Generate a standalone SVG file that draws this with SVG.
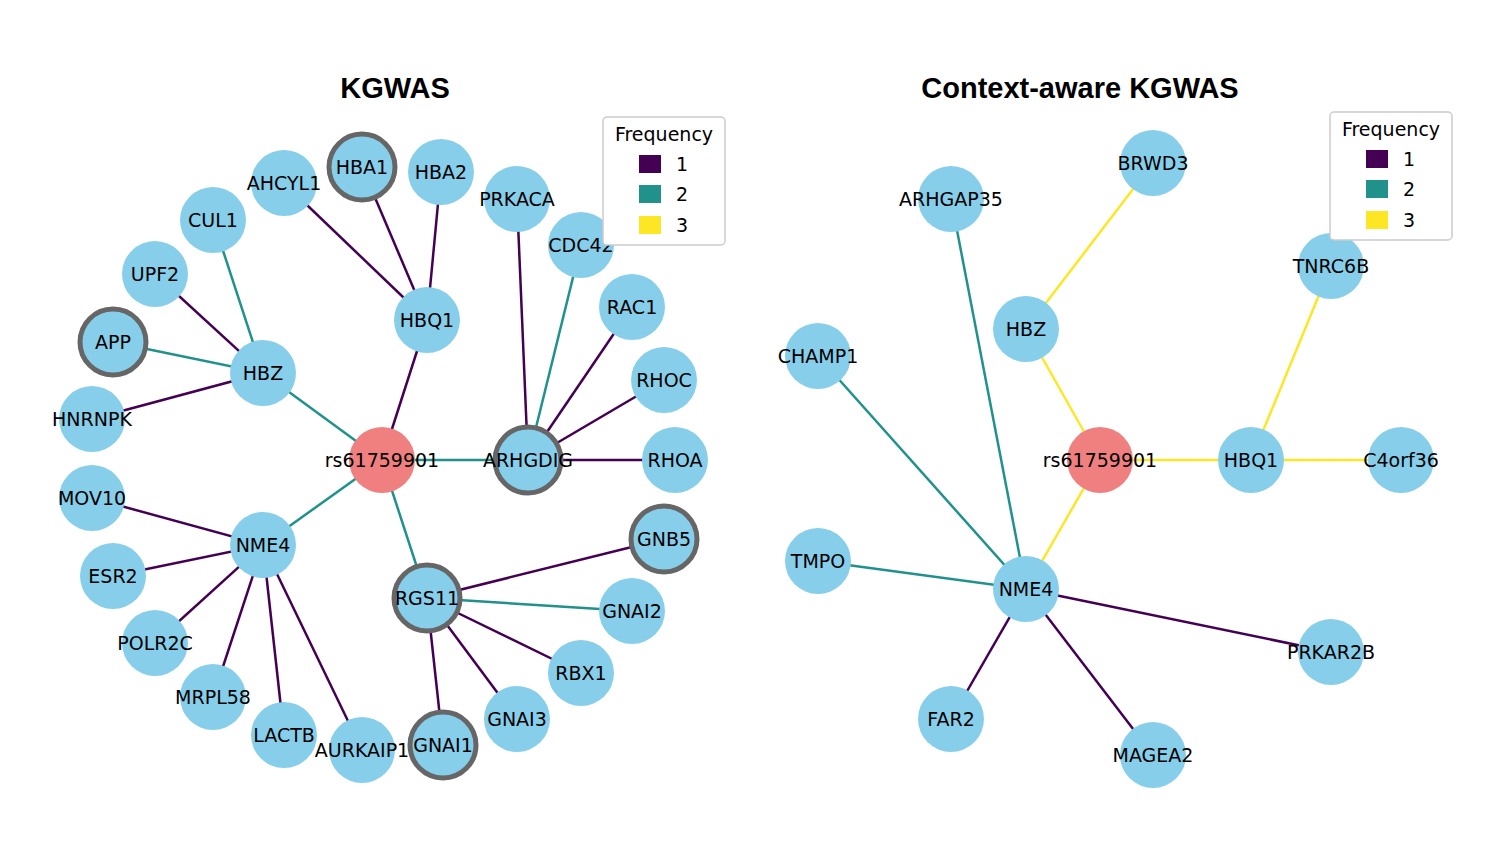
<svg xmlns="http://www.w3.org/2000/svg" width="1500" height="844" viewBox="0 0 1500 844">
<style>
.n{fill:#87ceeb}
.c{fill:#f08080}
.r{stroke:#666;stroke-width:5}
text{font-family:"DejaVu Sans",sans-serif;font-size:19px;text-anchor:middle;dominant-baseline:central;fill:#000}
.t{font-family:"Liberation Sans",Arial,sans-serif;font-size:29px;font-weight:bold}
.p{stroke:#440154;stroke-width:2.5}
.g{stroke:#21918c;stroke-width:2.5}
.y{stroke:#fde725;stroke-width:2.5}
.lg{fill:#fff;stroke:#ccc;stroke-width:1.5}
.lt{text-anchor:start}
</style>
<rect width="1500" height="844" fill="#fff"/>
<text class="t" x="395" y="88">KGWAS</text>
<text class="t" x="1080" y="88">Context-aware KGWAS</text>
<g id="connectors">
<line class="p" x1="382" y1="460" x2="427" y2="320"/>
<line class="g" x1="382" y1="460" x2="263" y2="373"/>
<line class="g" x1="382" y1="460" x2="528" y2="460"/>
<line class="g" x1="382" y1="460" x2="263" y2="545"/>
<line class="g" x1="382" y1="460" x2="427" y2="598"/>
<line class="p" x1="427" y1="320" x2="284" y2="183"/>
<line class="p" x1="427" y1="320" x2="362" y2="167"/>
<line class="p" x1="427" y1="320" x2="441" y2="172"/>
<line class="g" x1="263" y1="373" x2="213" y2="220"/>
<line class="p" x1="263" y1="373" x2="155" y2="274"/>
<line class="g" x1="263" y1="373" x2="113" y2="342"/>
<line class="p" x1="263" y1="373" x2="92" y2="419"/>
<line class="p" x1="528" y1="460" x2="517" y2="199"/>
<line class="g" x1="528" y1="460" x2="581" y2="245"/>
<line class="p" x1="528" y1="460" x2="632" y2="307"/>
<line class="p" x1="528" y1="460" x2="664" y2="380"/>
<line class="p" x1="528" y1="460" x2="675" y2="460"/>
<line class="p" x1="263" y1="545" x2="92" y2="498"/>
<line class="p" x1="263" y1="545" x2="113" y2="576"/>
<line class="p" x1="263" y1="545" x2="155" y2="643"/>
<line class="p" x1="263" y1="545" x2="213" y2="697"/>
<line class="p" x1="263" y1="545" x2="284" y2="735"/>
<line class="p" x1="263" y1="545" x2="362" y2="750"/>
<line class="p" x1="427" y1="598" x2="664" y2="539"/>
<line class="g" x1="427" y1="598" x2="632" y2="611"/>
<line class="p" x1="427" y1="598" x2="581" y2="673"/>
<line class="p" x1="427" y1="598" x2="517" y2="719"/>
<line class="p" x1="427" y1="598" x2="443" y2="745"/>
<line class="y" x1="1100" y1="460" x2="1026" y2="329"/>
<line class="y" x1="1100" y1="460" x2="1251" y2="460"/>
<line class="y" x1="1100" y1="460" x2="1026" y2="589"/>
<line class="y" x1="1026" y1="329" x2="1153" y2="163"/>
<line class="y" x1="1251" y1="460" x2="1331" y2="266"/>
<line class="y" x1="1251" y1="460" x2="1401" y2="460"/>
<line class="g" x1="1026" y1="589" x2="951" y2="199"/>
<line class="g" x1="1026" y1="589" x2="818" y2="356"/>
<line class="g" x1="1026" y1="589" x2="818" y2="561"/>
<line class="p" x1="1026" y1="589" x2="951" y2="719"/>
<line class="p" x1="1026" y1="589" x2="1153" y2="755"/>
<line class="p" x1="1026" y1="589" x2="1331" y2="652"/>
</g>
<g id="n-rs-l"><circle class="c" cx="382" cy="460" r="33"/><text x="382" y="460">rs61759901</text></g>
<g id="n-hbq1-l"><circle class="n" cx="427" cy="320" r="33"/><text x="427" y="320">HBQ1</text></g>
<g id="n-hbz-l"><circle class="n" cx="263" cy="373" r="33"/><text x="263" y="373">HBZ</text></g>
<g id="n-arhgdig"><circle class="n r" cx="528" cy="460" r="33"/><text x="528" y="460">ARHGDIG</text></g>
<g id="n-nme4-l"><circle class="n" cx="263" cy="545" r="33"/><text x="263" y="545">NME4</text></g>
<g id="n-rgs11"><circle class="n r" cx="427" cy="598" r="33"/><text x="427" y="598">RGS11</text></g>
<g id="n-ahcyl1"><circle class="n" cx="284" cy="183" r="33"/><text x="284" y="183">AHCYL1</text></g>
<g id="n-hba1"><circle class="n r" cx="362" cy="167" r="33"/><text x="362" y="167">HBA1</text></g>
<g id="n-hba2"><circle class="n" cx="441" cy="172" r="33"/><text x="441" y="172">HBA2</text></g>
<g id="n-cul1"><circle class="n" cx="213" cy="220" r="33"/><text x="213" y="220">CUL1</text></g>
<g id="n-upf2"><circle class="n" cx="155" cy="274" r="33"/><text x="155" y="274">UPF2</text></g>
<g id="n-app"><circle class="n r" cx="113" cy="342" r="33"/><text x="113" y="342">APP</text></g>
<g id="n-hnrnpk"><circle class="n" cx="92" cy="419" r="33"/><text x="92" y="419">HNRNPK</text></g>
<g id="n-prkaca"><circle class="n" cx="517" cy="199" r="33"/><text x="517" y="199">PRKACA</text></g>
<g id="n-cdc42"><circle class="n" cx="581" cy="245" r="33"/><text x="581" y="245">CDC42</text></g>
<g id="n-rac1"><circle class="n" cx="632" cy="307" r="33"/><text x="632" y="307">RAC1</text></g>
<g id="n-rhoc"><circle class="n" cx="664" cy="380" r="33"/><text x="664" y="380">RHOC</text></g>
<g id="n-rhoa"><circle class="n" cx="675" cy="460" r="33"/><text x="675" y="460">RHOA</text></g>
<g id="n-mov10"><circle class="n" cx="92" cy="498" r="33"/><text x="92" y="498">MOV10</text></g>
<g id="n-esr2"><circle class="n" cx="113" cy="576" r="33"/><text x="113" y="576">ESR2</text></g>
<g id="n-polr2c"><circle class="n" cx="155" cy="643" r="33"/><text x="155" y="643">POLR2C</text></g>
<g id="n-mrpl58"><circle class="n" cx="213" cy="697" r="33"/><text x="213" y="697">MRPL58</text></g>
<g id="n-lactb"><circle class="n" cx="284" cy="735" r="33"/><text x="284" y="735">LACTB</text></g>
<g id="n-aurkaip1"><circle class="n" cx="362" cy="750" r="33"/><text x="362" y="750">AURKAIP1</text></g>
<g id="n-gnb5"><circle class="n r" cx="664" cy="539" r="33"/><text x="664" y="539">GNB5</text></g>
<g id="n-gnai2"><circle class="n" cx="632" cy="611" r="33"/><text x="632" y="611">GNAI2</text></g>
<g id="n-rbx1"><circle class="n" cx="581" cy="673" r="33"/><text x="581" y="673">RBX1</text></g>
<g id="n-gnai3"><circle class="n" cx="517" cy="719" r="33"/><text x="517" y="719">GNAI3</text></g>
<g id="n-gnai1"><circle class="n r" cx="443" cy="745" r="33"/><text x="443" y="745">GNAI1</text></g>
<g id="n-rs-r"><circle class="c" cx="1100" cy="460" r="33"/><text x="1100" y="460">rs61759901</text></g>
<g id="n-hbz-r"><circle class="n" cx="1026" cy="329" r="33"/><text x="1026" y="329">HBZ</text></g>
<g id="n-hbq1-r"><circle class="n" cx="1251" cy="460" r="33"/><text x="1251" y="460">HBQ1</text></g>
<g id="n-nme4-r"><circle class="n" cx="1026" cy="589" r="33"/><text x="1026" y="589">NME4</text></g>
<g id="n-brwd3"><circle class="n" cx="1153" cy="163" r="33"/><text x="1153" y="163">BRWD3</text></g>
<g id="n-tnrc6b"><circle class="n" cx="1331" cy="266" r="33"/><text x="1331" y="266">TNRC6B</text></g>
<g id="n-c4orf36"><circle class="n" cx="1401" cy="460" r="33"/><text x="1401" y="460">C4orf36</text></g>
<g id="n-arhgap35"><circle class="n" cx="951" cy="199" r="33"/><text x="951" y="199">ARHGAP35</text></g>
<g id="n-champ1"><circle class="n" cx="818" cy="356" r="33"/><text x="818" y="356">CHAMP1</text></g>
<g id="n-tmpo"><circle class="n" cx="818" cy="561" r="33"/><text x="818" y="561">TMPO</text></g>
<g id="n-far2"><circle class="n" cx="951" cy="719" r="33"/><text x="951" y="719">FAR2</text></g>
<g id="n-magea2"><circle class="n" cx="1153" cy="755" r="33"/><text x="1153" y="755">MAGEA2</text></g>
<g id="n-prkar2b"><circle class="n" cx="1331" cy="652" r="33"/><text x="1331" y="652">PRKAR2B</text></g>
<g id="legend-l">
<rect class="lg" x="603" y="117" width="122" height="128" rx="4"/>
<text x="664" y="134">Frequency</text>
<rect x="639" y="155" width="22" height="18" fill="#440154"/><text class="lt" x="676" y="164">1</text>
<rect x="639" y="185" width="22" height="18" fill="#21918c"/><text class="lt" x="676" y="194">2</text>
<rect x="639" y="216" width="22" height="18" fill="#fde725"/><text class="lt" x="676" y="225">3</text>
</g>
<g id="legend-r">
<rect class="lg" x="1330" y="112" width="122" height="128" rx="4"/>
<text x="1391" y="129">Frequency</text>
<rect x="1366" y="150" width="22" height="18" fill="#440154"/><text class="lt" x="1403" y="159">1</text>
<rect x="1366" y="180" width="22" height="18" fill="#21918c"/><text class="lt" x="1403" y="189">2</text>
<rect x="1366" y="211" width="22" height="18" fill="#fde725"/><text class="lt" x="1403" y="220">3</text>
</g>
</svg>
